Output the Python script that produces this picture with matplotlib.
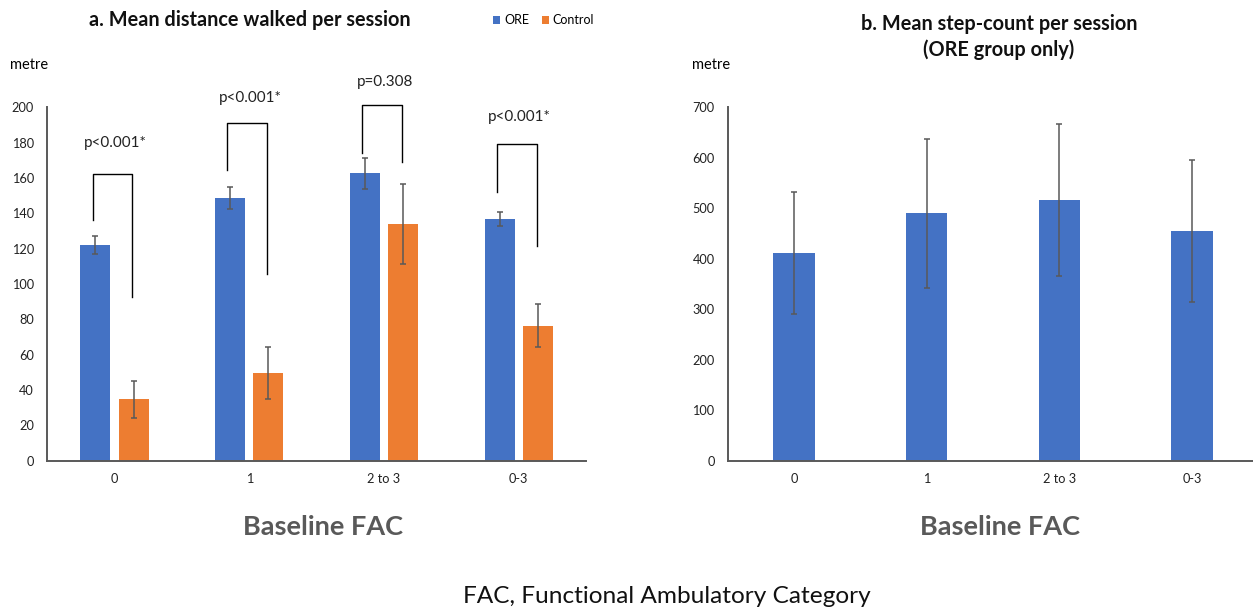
import numpy as np
import matplotlib.pyplot as plt

plt.rcParams["font.family"] = ["Lato", "DejaVu Sans"]

categories = ["0", "1", "2 to 3", "0-3"]

# panel a: mean distance walked (metre)
ore_dist = [122, 148.5, 162.6, 136.6]
ore_dist_err = [5, 6.3, 8.6, 3.9]
ctrl_dist = [34.7, 49.5, 134, 76.4]
ctrl_dist_err = [10.5, 14.8, 22.6, 12]

# significance brackets: top, left-leg bottom, right-leg bottom, label
bracket_top = [162.5, 191, 201.3, 179]
bracket_left_low = [136, 164.5, 174.3, 152.2]
bracket_right_low = [92.5, 105.5, 169.2, 121.5]
p_labels = ["p<0.001*", "p<0.001*", "p=0.308", "p<0.001*"]
p_label_y = [179.6, 205.1, 214.5, 194.7]

# panel b: mean step-count (ORE only)
ore_steps = [412, 490, 516, 455]
ore_steps_err = [121, 147, 151, 140]

blue = "#4472C4"
orange = "#ED7D31"
grey = "#595959"

fig = plt.figure(figsize=(12.53, 6.11), dpi=100)
ax1 = fig.add_axes([0.03775, 0.2460, 0.4300, 0.5784])
ax2 = fig.add_axes([0.5808, 0.2460, 0.4235, 0.5784])

x = np.arange(len(categories))
w = 0.223
err_kw = dict(ecolor=grey, elinewidth=1.1, capsize=2.5, capthick=1.1)

b1 = ax1.bar(x - 0.1425, ore_dist, w, yerr=ore_dist_err, color=blue,
             error_kw=err_kw, label="ORE")
b2 = ax1.bar(x + 0.142, ctrl_dist, w, yerr=ctrl_dist_err, color=orange,
             error_kw=err_kw, label="Control")

for i in range(len(categories)):
    xl = x[i] - 0.163
    xr = x[i] + 0.132
    ax1.plot([xl, xl, xr, xr],
             [bracket_left_low[i], bracket_top[i], bracket_top[i], bracket_right_low[i]],
             color="black", linewidth=1.0, clip_on=False)
    ax1.text(x[i] + 0.005, p_label_y[i], p_labels[i], ha="center", va="center",
             fontsize=11, color="#222222")

ax1.set_xlim(-0.5, 3.5)
ax1.set_ylim(0, 200)
ax1.set_yticks(np.arange(0, 201, 20))

ax2.bar(x, ore_steps, 0.311, yerr=ore_steps_err, color=blue, error_kw=err_kw)
ax2.set_xlim(-0.5, 3.5)
ax2.set_ylim(0, 700)
ax2.set_yticks(np.arange(0, 701, 100))

for ax in (ax1, ax2):
    ax.set_xticks(x)
    ax.set_xticklabels(categories)
    ax.tick_params(length=0, labelsize=9.2, colors="#222222")
    ax.tick_params(axis="y", pad=9.5)
    ax.tick_params(axis="x", pad=9)
    for s in ("top", "right"):
        ax.spines[s].set_visible(False)
    for s in ("left", "bottom"):
        ax.spines[s].set_color(grey)
        ax.spines[s].set_linewidth(1.4)

fig.text(0.1991, 0.967, "a. Mean distance walked per session", ha="center",
         va="center", fontsize=14.3, fontweight="bold", color="#111111")
fig.legend(handles=[b1, b2], labels=["ORE", "Control"], loc="center",
           bbox_to_anchor=(0.4338, 0.967), ncol=2, frameon=False, fontsize=9,
           handlelength=0.6, handleheight=0.6, handletextpad=0.3,
           columnspacing=1.0)
fig.text(0.7973, 0.9607, "b. Mean step-count per session", ha="center",
         va="center", fontsize=14.3, fontweight="bold", color="#111111")
fig.text(0.7973, 0.918, "(ORE group only)", ha="center",
         va="center", fontsize=14.3, fontweight="bold", color="#111111")

fig.text(0.008, 0.894, "metre", ha="left", va="center", fontsize=10.5)
fig.text(0.5523, 0.894, "metre", ha="left", va="center", fontsize=10.5)

fig.text(0.2578, 0.1375, "Baseline FAC", ha="center", va="center",
         fontsize=19.5, fontweight="bold", color=grey)
fig.text(0.798, 0.1375, "Baseline FAC", ha="center", va="center",
         fontsize=19.5, fontweight="bold", color=grey)

fig.text(0.532, 0.0234, "FAC, Functional Ambulatory Category", ha="center",
         va="center", fontsize=17.6, color="#111111")

fig.savefig("out.png", dpi=100)
